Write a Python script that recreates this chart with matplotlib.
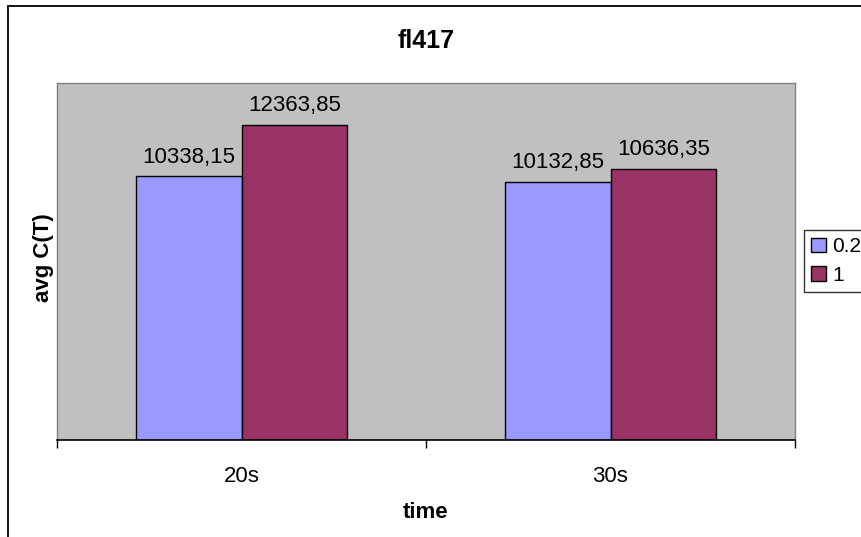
import matplotlib
matplotlib.use('Agg')
import matplotlib.pyplot as plt
from matplotlib.patches import Rectangle
import numpy as np

plt.rcParams['font.family'] = ['Liberation Sans', 'DejaVu Sans']

categories = ['20s', '30s']
series_names = ['0.2', '1']
vals_02 = [10338.15, 10132.85]
vals_1 = [12363.85, 10636.35]
colors = ['#9999FF', '#993366']

W, H = 862, 537
fig = plt.figure(figsize=(W / 100, H / 100), dpi=100)

# outer chart border (cropped on the right / bottom)
fig.add_artist(Rectangle((8 / W, -0.1), 1.2, 1.1 - 6 / H, transform=fig.transFigure,
                         fill=False, edgecolor='black', lw=1.3))

ax = fig.add_axes([57 / W, 1 - 440 / H, (795 - 57) / W, (440 - 83) / H])
ax.set_facecolor('#C0C0C0')

x = np.arange(len(categories))
w = 0.286
b1 = ax.bar(x - w / 2, vals_02, w, color=colors[0], edgecolor='black', lw=1, label=series_names[0])
b2 = ax.bar(x + w / 2, vals_1, w, color=colors[1], edgecolor='black', lw=1, label=series_names[1])

fmt = lambda v: f"{v:.2f}".replace('.', ',')
ax.bar_label(b1, labels=[fmt(v) for v in vals_02], padding=6, fontsize=16)
ax.bar_label(b2, labels=[fmt(v) for v in vals_1], padding=6, fontsize=16)

ax.set_xlim(-0.5, 1.5)
ax.set_ylim(0, 14000)
ax.set_yticks([])
ax.set_xticks([-0.5, 0.5, 1.5])
ax.set_xticklabels([])
ax.tick_params(axis='x', which='major', length=6, direction='out', color='black', width=1)
ax.set_xticks(x, minor=True)
ax.set_xticklabels(categories, minor=True, fontsize=16)
ax.tick_params(axis='x', which='minor', length=0, pad=19)

for s in ['left', 'top', 'right']:
    ax.spines[s].set_color('#808080')
    ax.spines[s].set_linewidth(1)
ax.spines['bottom'].set_color('black')
ax.spines['bottom'].set_linewidth(1.2)

fig.text(426 / W, 1 - 40.5 / H, 'fl417', ha='center', va='center', fontsize=18, fontweight='bold')
fig.text(426 / W, 1 - 512 / H, 'time', ha='center', va='center', fontsize=16, fontweight='bold')
fig.text(44 / W, 1 - 258 / H, 'avg C(T)', ha='center', va='center', rotation=90,
         fontsize=16, fontweight='bold')

leg = fig.legend(handles=[b1, b2], labels=series_names, loc='upper left',
                 bbox_to_anchor=(804 / W, 1 - 230 / H), fontsize=15, frameon=True,
                 fancybox=False, borderaxespad=0, handlelength=0.7, handleheight=0.7,
                 handletextpad=0.3, labelspacing=0.45, borderpad=0.35)
leg.get_frame().set_edgecolor('black')
leg.get_frame().set_linewidth(1)

fig.savefig('out.png', dpi=100)
